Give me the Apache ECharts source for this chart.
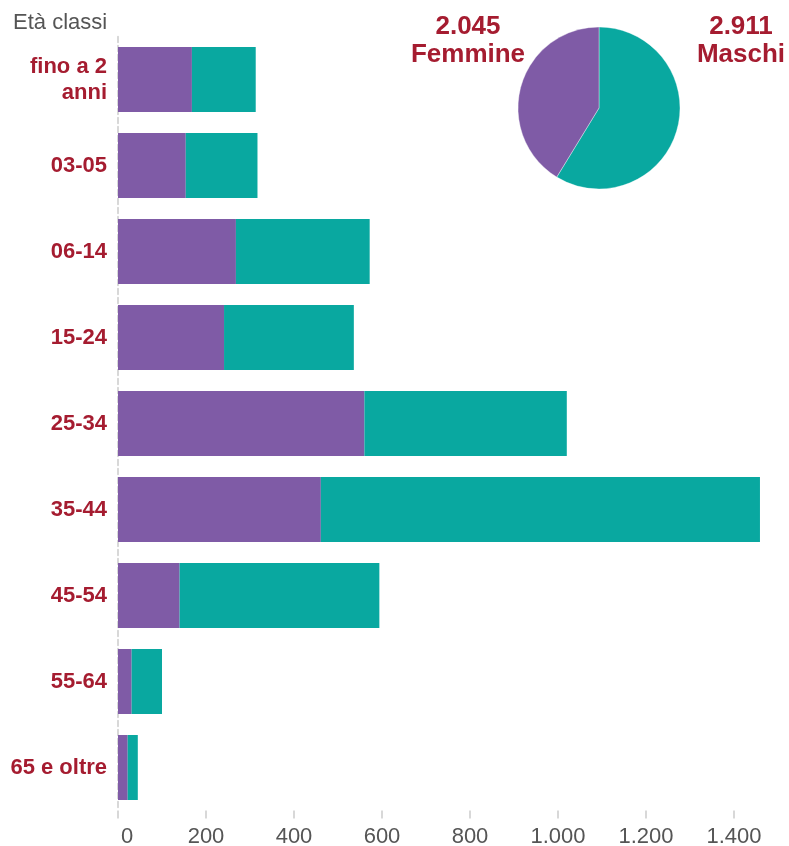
<!DOCTYPE html>
<html>
<head>
<meta charset="utf-8">
<script src="https://cdn.jsdelivr.net/npm/echarts@6/dist/echarts.min.js"></script>
<style>
html,body{margin:0;padding:0;background:#fff;}
#c{width:789px;height:846px;}
</style>
</head>
<body>
<div id="c"></div>
<script>
const categories = ['fino a 2\nanni', '03-05', '06-14', '15-24', '25-34', '35-44', '45-54', '55-64', '65 e oltre'];
const femmine = [168, 154, 268, 241, 560, 461, 140, 31, 22];
const maschi = [145, 163, 304, 295, 460, 998, 454, 69, 23];
const totalFemmine = 2045;
const totalMaschi = 2911;
const xTicks = [0, 200, 400, 600, 800, 1000, 1200, 1400];

const RED = '#a51c30';
const PURPLE = '#7f5ba6';
const TEAL = '#09a8a0';
const GREY = '#555555';

function fmt(v) {
  return String(v).replace(/\B(?=(\d{3})+(?!\d))/g, '.');
}

const chart = echarts.init(document.getElementById('c'));
chart.setOption({
  animation: false,
  textStyle: { fontFamily: 'Liberation Sans, Arial, sans-serif' },
  grid: { left: 118, right: 11, top: 36.5, bottom: 35.5, containLabel: false, outerBoundsMode: 'none' },
  xAxis: {
    type: 'value',
    min: 0,
    max: 1500,
    interval: 200,
    axisLine: { show: false },
    splitLine: { show: false },
    axisTick: { show: true, length: 8, lineStyle: { color: '#cccccc', width: 1.5 }, customValues: xTicks },
    axisLabel: {
      customValues: xTicks,
      color: GREY,
      fontSize: 22,
      margin: 15,
      formatter: function (v) { return v === 0 ? '{z|0}' : fmt(v); },
      rich: { z: { color: GREY, fontSize: 22, padding: [0, 0, 0, 18] } }
    }
  },
  yAxis: {
    type: 'category',
    data: categories,
    inverse: true,
    axisLine: { show: true, lineStyle: { color: '#cccccc', width: 1.5, type: 'dashed' } },
    axisTick: { show: false },
    axisLabel: { color: RED, fontSize: 22, fontWeight: 'bold', lineHeight: 26, margin: 11, align: 'right' }
  },
  series: [
    {
      name: 'Femmine', type: 'bar', stack: 'tot', data: femmine, barWidth: 65,
      itemStyle: { color: PURPLE }
    },
    {
      name: 'Maschi', type: 'bar', stack: 'tot', data: maschi, barWidth: 65,
      itemStyle: { color: TEAL }
    },
    {
      type: 'pie',
      center: [599, 108],
      radius: 81,
      startAngle: 90,
      clockwise: true,
      label: { show: false },
      labelLine: { show: false },
      emphasis: { disabled: true },
      itemStyle: { borderColor: 'rgba(255,255,255,0.6)', borderWidth: 0.6 },
      data: [
        { name: 'Maschi', value: totalMaschi, itemStyle: { color: TEAL } },
        { name: 'Femmine', value: totalFemmine, itemStyle: { color: PURPLE } }
      ]
    }
  ],
  graphic: [
    {
      type: 'text', left: 13, top: 12,
      style: { text: 'Età classi', fill: GREY, font: '22px Liberation Sans, Arial, sans-serif' }
    },
    {
      type: 'text', x: 468, y: 13,
      style: {
        text: fmt(totalFemmine) + '\nFemmine', fill: RED, align: 'center',
        font: 'bold 26px Liberation Sans, Arial, sans-serif', lineHeight: 28
      }
    },
    {
      type: 'text', x: 741, y: 13,
      style: {
        text: fmt(totalMaschi) + '\nMaschi', fill: RED, align: 'center',
        font: 'bold 26px Liberation Sans, Arial, sans-serif', lineHeight: 28
      }
    }
  ]
});
</script>
</body>
</html>
